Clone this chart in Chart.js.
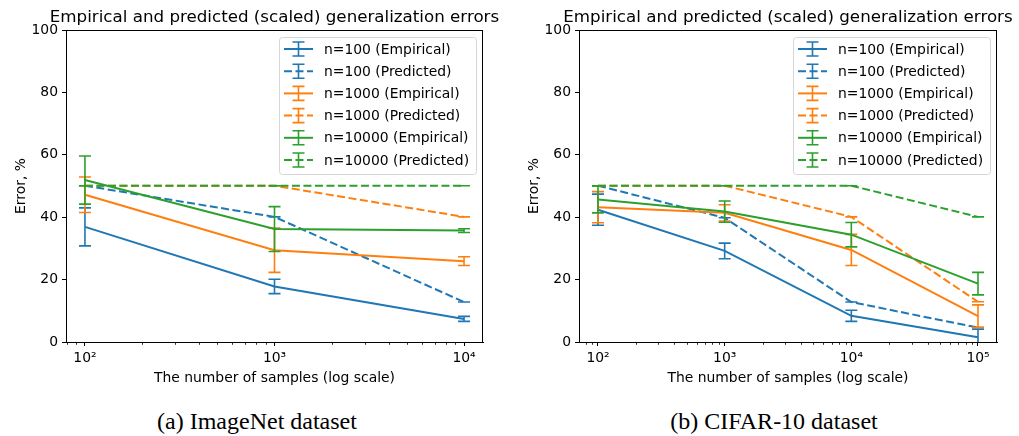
<!DOCTYPE html>
<html>
<head>
<meta charset="utf-8">
<script src="https://cdn.jsdelivr.net/npm/chart.js@4"></script>
<style>
  body { margin: 0; background: #fff; width: 1019px; height: 436px; overflow: hidden; position: relative; }
  .panel { position: absolute; top: 0; height: 395px; }
  .caption { position: absolute; top: 407px; line-height: 28px; font-family: 'Liberation Serif', 'Times New Roman', serif; font-size: 24px; text-align: center; color: #000; }
</style>
</head>
<body>
<div class="panel" style="left:0;width:510px"><canvas id="chartA"></canvas></div>
<div class="panel" style="left:513px;width:506px"><canvas id="chartB"></canvas></div>
<div class="caption" style="left:0;width:514px">(a) ImageNet dataset</div>
<div class="caption" style="left:513px;width:522px">(b) CIFAR-10 dataset</div>
<script>
// ImageNet (a)
var samplesA = [100, 1000, 10000];
var emp100A = [36.9, 17.8, 7.4];
var err100A = [6.1, 2.3, 0.8];
var pred100A = [50.1, 40.1, 12.8];
var emp1000A = [47.2, 29.4, 25.9];
var err1000A = [5.7, 7.1, 1.4];
var pred1000A = [50.1, 50.1, 40.1];
var emp10000A = [51.9, 36.2, 35.7];
var err10000A = [7.7, 7.2, 0.6];
var pred10000A = [50.1, 50.1, 50.1];

// CIFAR-10 (b)
var samplesB = [100, 1000, 10000, 100000];
var emp100B = [42.4, 29.2, 8.4, 1.5];
var err100B = [5.0, 2.5, 1.8, 2.6];
var pred100B = [50.1, 39.8, 12.8, 4.6];
var emp1000B = [43.2, 41.4, 29.5, 8.3];
var err1000B = [5.0, 2.6, 5.0, 3.6];
var pred1000B = [50.1, 50.1, 40.1, 12.9];
var emp10000B = [45.7, 41.8, 34.4, 18.7];
var err10000B = [4.3, 3.4, 3.9, 3.6];
var pred10000B = [50.1, 50.1, 50.1, 40.1];

var yTicks = [0, 20, 40, 60, 80, 100];
var labels = ['n=100 (Empirical)', 'n=100 (Predicted)', 'n=1000 (Empirical)',
              'n=1000 (Predicted)', 'n=10000 (Empirical)', 'n=10000 (Predicted)'];
var titleText = 'Empirical and predicted (scaled) generalization errors';

var blue = '#1f77b4', orange = '#ff7f0e', green = '#2ca02c';
var sup = {2: '²', 3: '³', 4: '⁴', 5: '⁵'};

Chart.defaults.font.family = "'DejaVu Sans', sans-serif";
Chart.defaults.font.size = 13.9;
Chart.defaults.color = '#000';

function zeros(n) { var a = []; for (var i = 0; i < n; i++) a.push(0); return a; }

function buildSeries(samples, e1, r1, p1, e2, r2, p2, e3, r3, p3) {
    var z = zeros(samples.length);
    var rows = [
        [e1, r1, blue, false], [p1, z, blue, true],
        [e2, r2, orange, false], [p2, z, orange, true],
        [e3, r3, green, false], [p3, z, green, true]
    ];
    return rows.map(function (r, i) {
        return {
            label: labels[i],
            data: samples.map(function (x, k) { return {x: x, y: r[0][k]}; }),
            err: r[1],
            borderColor: r[2],
            backgroundColor: r[2],
            borderWidth: 2,
            borderDash: r[3] ? [8, 3.5] : [],
            pointRadius: 0,
            tension: 0,
            fill: false,
            order: 10 - i
        };
    });
}

// error bars, drawn right after each line so the layering follows the datasets
var errorBars = {
    id: 'errorBars',
    afterDatasetDraw: function (chart, args) {
        var ds = chart.data.datasets[args.index];
        var xs = chart.scales.x, ys = chart.scales.y, a = chart.chartArea, ctx = chart.ctx;
        ctx.save();
        ctx.beginPath();
        ctx.rect(a.left, a.top, a.right - a.left, a.bottom - a.top);
        ctx.clip();
        ctx.strokeStyle = ds.borderColor;
        ctx.lineWidth = 1.6;
        ctx.setLineDash([]);
        ds.data.forEach(function (p, i) {
            var px = xs.getPixelForValue(p.x);
            var hi = ys.getPixelForValue(p.y + ds.err[i]);
            var lo = ys.getPixelForValue(p.y - ds.err[i]);
            ctx.beginPath();
            ctx.moveTo(px, hi); ctx.lineTo(px, lo);
            ctx.moveTo(px - 6, hi); ctx.lineTo(px + 6, hi);
            ctx.moveTo(px - 6, lo); ctx.lineTo(px + 6, lo);
            ctx.stroke();
        });
        ctx.restore();
    }
};

// title (wider than the axes, so not squeezed), axes frame, minor log ticks, boxed legend
var frame = {
    id: 'frame',
    afterDraw: function (chart) {
        var a = chart.chartArea, ctx = chart.ctx, xs = chart.scales.x;
        ctx.save();
        ctx.fillStyle = '#000';
        ctx.font = "16.7px 'DejaVu Sans', sans-serif";
        ctx.textAlign = 'center';
        ctx.textBaseline = 'middle';
        ctx.fillText(titleText, (a.left + a.right) / 2, a.top - 12.5);

        ctx.strokeStyle = '#000';
        ctx.lineWidth = 1;
        ctx.strokeRect(Math.round(a.left) + 0.5, Math.round(a.top) + 0.5,
                       Math.round(a.right - a.left) - 1, Math.round(a.bottom - a.top));

        ctx.lineWidth = 0.8;
        ctx.beginPath();
        for (var e = 1; e <= 5; e++) {
            for (var m = 2; m <= 9; m++) {
                var v = m * Math.pow(10, e);
                if (v < xs.min || v > xs.max) continue;
                var px = Math.round(xs.getPixelForValue(v)) + 0.5;
                ctx.moveTo(px, a.bottom);
                ctx.lineTo(px, a.bottom + 2.8);
            }
        }
        ctx.stroke();

        // legend
        var bw = 197, bh = 137;
        var bx = a.right - 7 - bw, by = a.top + 7;
        ctx.beginPath();
        ctx.roundRect(bx + 0.5, by + 0.5, bw, bh, 3);
        ctx.fillStyle = 'rgba(255,255,255,0.8)';
        ctx.fill();
        ctx.strokeStyle = '#d6d6d6';
        ctx.lineWidth = 1;
        ctx.stroke();

        chart.data.datasets.forEach(function (ds, i) {
            var cy = by + 12 + i * 22.2;
            var x0 = bx + 5, x1 = bx + 34, xm = (x0 + x1) / 2;
            ctx.strokeStyle = ds.borderColor;
            ctx.lineWidth = 2;
            ctx.setLineDash(ds.borderDash);
            ctx.beginPath();
            ctx.moveTo(x0, cy); ctx.lineTo(x1, cy);
            ctx.stroke();
            ctx.setLineDash([]);
            ctx.lineWidth = 1.6;
            ctx.beginPath();
            ctx.moveTo(xm, cy - 7); ctx.lineTo(xm, cy + 7);
            ctx.moveTo(xm - 6, cy - 7); ctx.lineTo(xm + 6, cy - 7);
            ctx.moveTo(xm - 6, cy + 7); ctx.lineTo(xm + 6, cy + 7);
            ctx.stroke();
            ctx.fillStyle = '#000';
            ctx.font = "13.9px 'DejaVu Sans', sans-serif";
            ctx.textBaseline = 'middle';
            ctx.textAlign = 'left';
            ctx.fillText(ds.label, bx + 45, cy + 1);
        });
        ctx.restore();
    }
};

function makeChart(id, samples, datasets, loExp, hiExp) {
    return new Chart(document.getElementById(id), {
        type: 'line',
        data: {datasets: datasets},
        plugins: [errorBars, frame],
        options: {
            responsive: true,
            maintainAspectRatio: false,
            animation: false,
            devicePixelRatio: 1,
            layout: {padding: {left: 0, right: id === 'chartA' ? 27 : 22, top: 30, bottom: 0}},
            plugins: {
                legend: {display: false},
                tooltip: {enabled: false},
                title: {display: false}
            },
            scales: {
                x: {
                    type: 'logarithmic',
                    min: Math.pow(10, loExp),
                    max: Math.pow(10, hiExp),
                    afterBuildTicks: function (s) {
                        s.ticks = samples.map(function (v) { return {value: v, major: true}; });
                    },
                    afterFit: function (s) { s.height = 53; },
                    ticks: {
                        autoSkip: false,
                        maxRotation: 0,
                        padding: 4,
                        callback: function (v) { return '10' + sup[Math.round(Math.log10(v))]; }
                    },
                    grid: {drawOnChartArea: false, drawTicks: true, tickLength: 4, color: '#000', lineWidth: 1},
                    border: {display: true, color: '#000', width: 1},
                    title: {display: true, text: 'The number of samples (log scale)', padding: {top: 0, bottom: 8}}
                },
                y: {
                    type: 'linear',
                    min: 0,
                    max: 100,
                    afterBuildTicks: function (s) {
                        s.ticks = yTicks.map(function (v) { return {value: v}; });
                    },
                    afterFit: function (s) { s.width = 66; },
                    ticks: {padding: 4},
                    grid: {drawOnChartArea: false, drawTicks: true, tickLength: 4, color: '#000', lineWidth: 1},
                    border: {display: true, color: '#000', width: 1},
                    title: {display: true, text: 'Error, %', padding: {top: 13, bottom: 0}}
                }
            }
        }
    });
}

makeChart('chartA', samplesA,
    buildSeries(samplesA, emp100A, err100A, pred100A, emp1000A, err1000A, pred1000A,
                emp10000A, err10000A, pred10000A), 1.9, 4.1);
makeChart('chartB', samplesB,
    buildSeries(samplesB, emp100B, err100B, pred100B, emp1000B, err1000B, pred1000B,
                emp10000B, err10000B, pred10000B), 1.85, 5.15);
</script>
</body>
</html>
